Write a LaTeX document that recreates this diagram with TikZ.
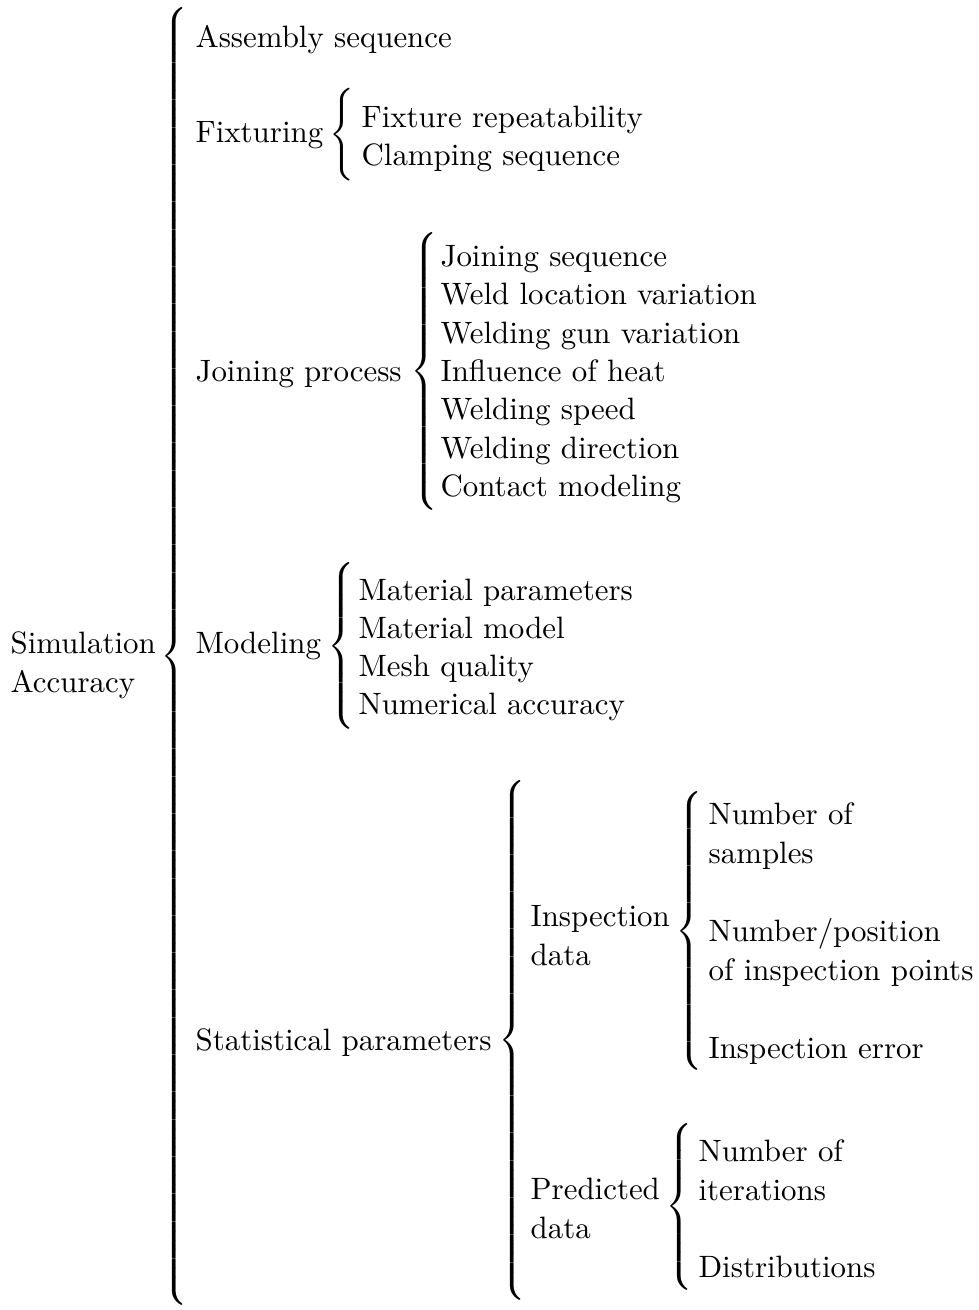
\documentclass[tikz,border=0pt]{standalone}

% extensible brace of a given total height
\newcommand{\tbrace}[1]{$\left\{\vcenter{\hrule height #1 width 0pt}\right.$}

\tikzset{
	entry/.style = {anchor = base west, inner sep = 0pt, align = left,
		font = \fontsize{10}{12.36}\selectfont},
	brc/.style = {anchor = center, inner sep = 0pt}
}

\begin{document}
\begin{tikzpicture}[x = 0.3236pt, y = -0.3236pt]

	% Definitions

	\def\row{38.3}		% Baseline distance of list entries

	\useasboundingbox (0, 0) rectangle (979, 1310);


	% Root and main brace
	% (base of a two-line entry is its last line)

	\node [entry] (root) at (10, 692) {Simulation\\Accuracy};
	\node [brc] (bRoot) at (176, 656.5) {\tbrace{423pt}};


	% Level one

	\node [entry] (asm) at (195, 48) {Assembly sequence};
	\node [entry] (fix) at (195, 143) {Fixturing};
	\node [entry] (join) at (195, 381.5) {Joining process};
	\node [entry] (mod) at (195, 653.5) {Modeling};
	\node [entry] (stat) at (195, 1050.5) {Statistical parameters};


	% Fixturing

	\node [brc] (bFix) at (344, 135) {\tbrace{30pt}};
	\foreach \t [count = \i] in {Fixture repeatability, Clamping sequence}
		\node [entry] (fix\i) at (361, {127.5 + \row * (\i - 1)}) {\t};


	% Joining process

	\node [brc] (bJoin) at (426, 371.5) {\tbrace{93pt}};
	\foreach \t [count = \i] in {Joining sequence, Weld location variation,
		Welding gun variation, Influence of heat, Welding speed,
		Welding direction, Contact modeling}
		\node [entry] (join\i) at (440, {266.5 + \row * (\i - 1)}) {\t};


	% Modeling

	\node [brc] (bMod) at (343, 646) {\tbrace{57pt}};
	\foreach \t [count = \i] in {Material parameters, Material model,
		Mesh quality, Numerical accuracy}
		\node [entry] (mod\i) at (358, {600 + \row * (\i - 1)}) {\t};


	% Statistical parameters

	\node [brc] (bStat) at (514, 1040.5) {\tbrace{171pt}};
	\node [entry] (insp) at (530, 965) {Inspection\\data};
	\node [entry] (pred) at (530, 1238) {Predicted\\data};

	\node [brc] (bInsp) at (691, 931) {\tbrace{93pt}};
	\node [entry] (insp1) at (708, 863) {Number of\\samples};
	\node [entry] (insp2) at (708, 980) {Number/position\\of inspection points};
	\node [entry] (insp3) at (708, 1058) {Inspection error};

	\node [brc] (bPred) at (681, 1206.5) {\tbrace{57pt}};
	\node [entry] (pred1) at (698, 1200) {Number of\\iterations};
	\node [entry] (pred2) at (698, 1277) {Distributions};

\end{tikzpicture}
\end{document}
